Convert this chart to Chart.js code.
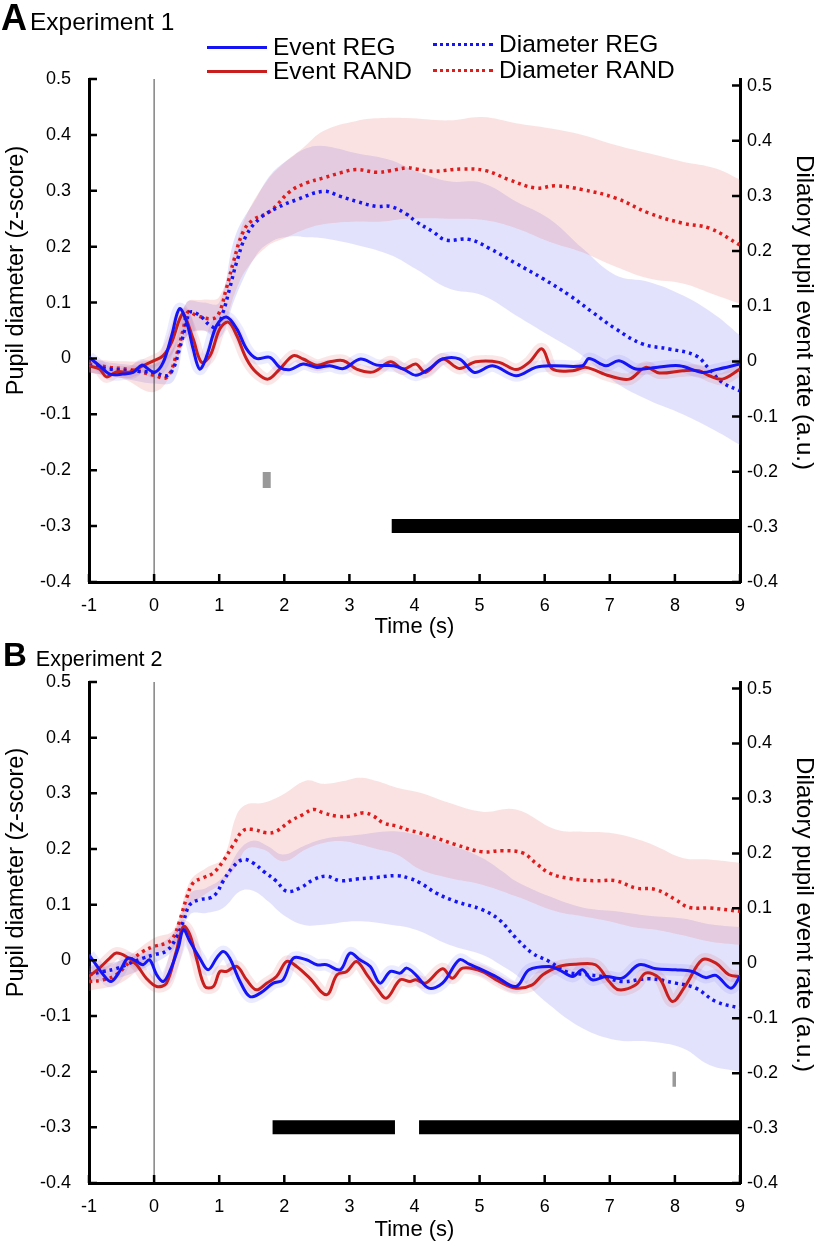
<!DOCTYPE html>
<html>
<head>
<meta charset="utf-8">
<script src="https://cdn.jsdelivr.net/npm/chart.js@4.4.1/dist/chart.umd.min.js"></script>
<style>
  body { margin: 0; background: #fff; font-family: "Liberation Sans", Arial, sans-serif; }
  #page { position: relative; width: 826px; height: 1249px; }
  .box { position: absolute; left: 0; width: 826px; }
  .lbl { position: absolute; color: #000; white-space: nowrap; line-height: 30px; }
  .lbl b { margin-right: 3px; }
  .key { position: absolute; font-size: 24.5px; line-height: 24px; white-space: nowrap; display: flex; align-items: center; }
  .key span { display: inline-block; width: 60px; margin-right: 6px; border-top: 3px solid; }
</style>
</head>
<body>
<div id="page">
  <div class="box" style="top:0;height:640px"><canvas id="chartA" width="826" height="640"></canvas></div>
  <div class="box" style="top:640px;height:609px"><canvas id="chartB" width="826" height="609"></canvas></div>

  <div class="lbl" style="left:1px;top:3px;font-size:24.5px"><b style="font-size:36px">A</b>Experiment 1</div>
  <div class="lbl" style="left:3px;top:640px;font-size:21.5px"><b style="font-size:33px">B</b> Experiment 2</div>

  <div class="key" style="left:207px;top:35px"><span style="border-color:#1414f5"></span>Event REG</div>
  <div class="key" style="left:207px;top:59px"><span style="border-color:#c81e1e"></span>Event RAND</div>
  <div class="key" style="left:433px;top:32px"><span style="border-top-style:dotted;border-color:#1414f5"></span>Diameter REG</div>
  <div class="key" style="left:433px;top:58px"><span style="border-top-style:dotted;border-color:#dd1c1c"></span>Diameter RAND</div>
</div>

<script>
// axes
var xTicks = [-1, 0, 1, 2, 3, 4, 5, 6, 7, 8, 9];
var yTicks = [-0.4, -0.3, -0.2, -0.1, 0, 0.1, 0.2, 0.3, 0.4, 0.5];
var leftTitle = 'Pupil diameter (z-score)';
var rightTitle = 'Dilatory pupil event rate (a.u.)';

// ---- Experiment 1 ----
var diaRandA_t = [-1, -0.68, -0.37, 0, 0.19, 0.34, 0.45, 0.52, 0.65, 0.86, 0.98, 1.11, 1.22, 1.37, 1.52, 1.78, 2.09, 2.34, 2.6, 2.86, 3.11, 3.42, 3.63, 3.88, 4.02, 4.28, 4.74, 5.09, 5.45, 5.86, 6.17, 6.58, 7.09, 7.6, 8.12, 8.53, 9];
var diaRandA_v = [-0.01, -0.016, -0.02, -0.03, -0.034, 0.005, 0.053, 0.083, 0.077, 0.071, 0.077, 0.125, 0.173, 0.227, 0.248, 0.263, 0.299, 0.314, 0.323, 0.332, 0.338, 0.333, 0.336, 0.341, 0.339, 0.335, 0.339, 0.336, 0.32, 0.305, 0.309, 0.302, 0.287, 0.26, 0.242, 0.233, 0.203];

var diaRegA_t = [-1, -0.68, -0.37, 0, 0.19, 0.29, 0.39, 0.5, 0.55, 0.7, 0.86, 0.96, 1.06, 1.16, 1.27, 1.42, 1.63, 1.88, 2.19, 2.6, 2.86, 3.11, 3.42, 3.63, 3.88, 4.02, 4.28, 4.48, 4.84, 5.15, 5.56, 5.97, 6.38, 6.73, 7.09, 7.5, 7.91, 8.32, 8.53, 8.73, 9];
var diaRegA_v = [-0.013, -0.019, -0.022, -0.025, -0.031, -0.019, 0.017, 0.065, 0.083, 0.077, 0.059, 0.056, 0.083, 0.125, 0.173, 0.221, 0.251, 0.269, 0.284, 0.299, 0.29, 0.281, 0.272, 0.272, 0.258, 0.245, 0.227, 0.212, 0.213, 0.197, 0.17, 0.143, 0.113, 0.083, 0.053, 0.026, 0.017, 0.005, -0.019, -0.043, -0.058];

var bandRandA_t  = [-1, -0.5, 0, 0.3, 0.5, 0.75, 1.0, 1.25, 1.42, 1.73, 2.0, 2.29, 2.6, 3.11, 3.5, 3.88, 4.53, 5.04, 5.56, 6.07, 6.58, 7.09, 7.6, 8.12, 8.63, 9];
var bandRandA_hi = [0.0, -0.005, 0.0, 0.03, 0.1, 0.105, 0.11, 0.2, 0.257, 0.317, 0.35, 0.377, 0.407, 0.425, 0.43, 0.43, 0.426, 0.432, 0.421, 0.412, 0.4, 0.382, 0.367, 0.352, 0.34, 0.32];
var bandRandA_lo = [-0.025, -0.035, -0.06, -0.02, 0.04, 0.05, 0.045, 0.12, 0.16, 0.2, 0.215, 0.23, 0.24, 0.245, 0.245, 0.25, 0.25, 0.248, 0.233, 0.209, 0.19, 0.164, 0.143, 0.134, 0.113, 0.098];

var bandRegA_t  = [-1, -0.5, 0, 0.3, 0.5, 0.75, 1.0, 1.25, 1.57, 1.8, 2.09, 2.34, 2.6, 3.11, 3.63, 4.02, 4.53, 5.04, 5.56, 6.07, 6.58, 7.09, 7.6, 8.12, 8.63, 9];
var bandRegA_hi = [0.0, -0.01, -0.01, 0.02, 0.1, 0.1, 0.1, 0.22, 0.287, 0.33, 0.358, 0.376, 0.38, 0.367, 0.355, 0.335, 0.317, 0.314, 0.281, 0.25, 0.197, 0.149, 0.137, 0.113, 0.077, 0.041];
var bandRegA_lo = [-0.025, -0.035, -0.045, -0.04, 0.04, 0.05, 0.035, 0.11, 0.185, 0.209, 0.218, 0.217, 0.215, 0.203, 0.185, 0.16, 0.125, 0.113, 0.077, 0.041, 0.005, -0.043, -0.075, -0.1, -0.13, -0.155];

var evRandA_t = [-1, -0.84, -0.73, -0.58, -0.37, -0.17, 0, 0.14, 0.27, 0.39, 0.45, 0.6, 0.73, 0.86, 1.01, 1.14, 1.27, 1.42, 1.57, 1.75, 1.93, 2.14, 2.29, 2.5, 2.7, 2.91, 3.11, 3.37, 3.63, 3.83, 4.02, 4.17, 4.43, 4.69, 4.94, 5.3, 5.56, 5.76, 5.96, 6.12, 6.43, 6.63, 6.99, 7.3, 7.55, 7.76, 8.12, 8.37, 8.53, 8.73, 9];
var evRandA_v = [-0.013, -0.019, -0.033, -0.024, -0.024, -0.013, -0.004, 0.005, 0.029, 0.07, 0.08, 0.035, -0.007, 0.005, 0.053, 0.065, 0.041, -0.001, -0.025, -0.037, -0.019, 0.005, -0.001, -0.012, -0.006, -0.004, -0.019, -0.024, -0.006, -0.019, -0.01, -0.025, -0.001, -0.018, -0.006, -0.007, -0.02, -0.007, 0.017, -0.019, -0.022, -0.016, -0.031, -0.037, -0.016, -0.026, -0.022, -0.022, -0.031, -0.037, -0.019];

var evRegA_t = [-1, -0.84, -0.68, -0.48, -0.32, -0.19, -0.09, 0.01, 0.14, 0.27, 0.39, 0.5, 0.6, 0.7, 0.81, 0.96, 1.11, 1.27, 1.42, 1.57, 1.78, 1.93, 2.09, 2.29, 2.5, 2.7, 2.91, 3.17, 3.42, 3.68, 3.83, 4.02, 4.22, 4.43, 4.69, 4.92, 5.2, 5.56, 5.86, 6.12, 6.58, 6.68, 6.94, 7.14, 7.4, 7.71, 8.07, 8.42, 8.63, 9];
var evRegA_v = [0.002, -0.013, -0.028, -0.028, -0.025, -0.012, -0.019, -0.025, -0.007, 0.041, 0.089, 0.065, 0.017, -0.019, 0.005, 0.059, 0.074, 0.053, 0.017, 0, 0.002, -0.016, -0.02, -0.01, -0.016, -0.013, -0.018, -0.001, -0.012, -0.013, -0.019, -0.03, -0.019, -0.001, -0.001, -0.025, -0.013, -0.031, -0.016, -0.013, -0.013, 0, -0.013, -0.004, -0.019, -0.016, -0.013, -0.025, -0.02, -0.01];

var sigBarsA = [[3.65, 9]];
var greyMarkA = { x: 1.73, y: [-0.203, -0.232] };

// ---- Experiment 2 ----
var diaRandB_t = [-1, -0.78, -0.58, -0.37, -0.17, 0, 0.19, 0.29, 0.39, 0.5, 0.6, 0.75, 0.91, 1.06, 1.22, 1.37, 1.52, 1.73, 1.88, 2.09, 2.29, 2.45, 2.6, 2.81, 3.01, 3.22, 3.37, 3.52, 3.73, 3.93, 4.02, 4.33, 4.63, 5.04, 5.35, 5.66, 5.86, 6.07, 6.38, 6.78, 7.09, 7.4, 7.71, 8.01, 8.22, 8.53, 9];
var diaRandB_v = [-0.038, -0.035, -0.026, -0.002, 0.016, 0.025, 0.031, 0.04, 0.07, 0.112, 0.139, 0.148, 0.157, 0.178, 0.208, 0.233, 0.235, 0.229, 0.232, 0.25, 0.262, 0.271, 0.265, 0.259, 0.259, 0.265, 0.259, 0.247, 0.241, 0.233, 0.231, 0.22, 0.208, 0.195, 0.197, 0.193, 0.175, 0.157, 0.147, 0.143, 0.143, 0.13, 0.127, 0.109, 0.095, 0.094, 0.088];

var diaRegB_t = [-1, -0.78, -0.58, -0.37, -0.17, 0, 0.19, 0.34, 0.45, 0.55, 0.7, 0.86, 0.96, 1.06, 1.22, 1.37, 1.52, 1.68, 1.88, 2.04, 2.24, 2.45, 2.65, 2.86, 3.11, 3.42, 3.73, 3.93, 4.09, 4.33, 4.63, 5.04, 5.3, 5.56, 5.81, 6.07, 6.32, 6.58, 6.89, 7.19, 7.6, 8.01, 8.32, 8.63, 9];
var diaRegB_v = [-0.026, -0.02, -0.015, -0.005, 0.004, 0.01, 0.017, 0.04, 0.07, 0.1, 0.109, 0.112, 0.121, 0.142, 0.169, 0.181, 0.175, 0.16, 0.142, 0.124, 0.13, 0.145, 0.151, 0.143, 0.146, 0.149, 0.152, 0.147, 0.139, 0.121, 0.106, 0.091, 0.073, 0.04, 0.013, -0.002, -0.02, -0.025, -0.029, -0.038, -0.033, -0.041, -0.05, -0.074, -0.086];

var bandRandB_t  = [-1, -0.5, 0, 0.3, 0.55, 0.8, 1.06, 1.27, 1.42, 1.68, 1.98, 2.34, 2.6, 2.91, 3.16, 3.42, 3.73, 4.09, 4.53, 5.04, 5.56, 6.17, 6.58, 6.99, 7.35, 7.71, 8.12, 8.53, 9];
var bandRandB_hi = [-0.02, 0.0, 0.04, 0.055, 0.142, 0.166, 0.184, 0.262, 0.28, 0.283, 0.298, 0.323, 0.317, 0.322, 0.328, 0.322, 0.31, 0.301, 0.283, 0.267, 0.271, 0.235, 0.231, 0.229, 0.22, 0.205, 0.184, 0.181, 0.175];
var bandRandB_lo = [-0.055, -0.04, 0.01, 0.025, 0.095, 0.12, 0.14, 0.17, 0.2, 0.199, 0.178, 0.2, 0.211, 0.214, 0.208, 0.2, 0.19, 0.163, 0.148, 0.136, 0.115, 0.088, 0.079, 0.07, 0.06, 0.055, 0.045, 0.034, 0.028];

var bandRegB_t  = [-1, -0.5, 0, 0.3, 0.55, 0.8, 1.06, 1.32, 1.52, 1.75, 1.98, 2.29, 2.6, 3.11, 3.63, 4.02, 4.53, 5.04, 5.35, 5.56, 6.07, 6.58, 7.09, 7.6, 8.12, 8.53, 9];
var bandRegB_hi = [-0.01, 0.0, 0.025, 0.05, 0.12, 0.13, 0.15, 0.2, 0.215, 0.205, 0.19, 0.205, 0.218, 0.225, 0.232, 0.226, 0.208, 0.184, 0.16, 0.142, 0.115, 0.095, 0.088, 0.08, 0.075, 0.065, 0.06];
var bandRegB_lo = [-0.04, -0.03, -0.005, 0.02, 0.082, 0.085, 0.094, 0.124, 0.125, 0.106, 0.082, 0.064, 0.064, 0.07, 0.064, 0.055, 0.028, 0.01, -0.01, -0.026, -0.08, -0.122, -0.143, -0.146, -0.158, -0.188, -0.2];

var evRandB_t = [-1, -0.84, -0.68, -0.58, -0.43, -0.27, -0.12, 0.04, 0.19, 0.34, 0.45, 0.55, 0.65, 0.78, 0.91, 1.01, 1.11, 1.27, 1.42, 1.57, 1.73, 1.88, 2.04, 2.19, 2.39, 2.65, 2.81, 2.96, 3.11, 3.27, 3.42, 3.57, 3.78, 3.93, 4.02, 4.17, 4.43, 4.58, 4.74, 5.04, 5.3, 5.56, 5.81, 5.97, 6.22, 6.48, 6.78, 6.99, 7.14, 7.4, 7.55, 7.76, 7.96, 8.17, 8.42, 8.63, 8.83, 9];
var evRandB_v = [-0.029, -0.014, 0.004, 0.013, 0.007, -0.008, -0.032, -0.047, -0.041, 0.016, 0.061, 0.046, 0.004, -0.047, -0.047, -0.02, -0.02, -0.011, -0.035, -0.053, -0.041, -0.029, -0.002, -0.011, -0.032, -0.062, -0.026, -0.02, -0.002, -0.026, -0.05, -0.068, -0.035, -0.038, -0.035, -0.041, -0.015, -0.032, -0.014, -0.02, -0.038, -0.05, -0.044, -0.026, -0.011, -0.007, -0.008, -0.038, -0.053, -0.044, -0.023, -0.032, -0.074, -0.044, 0.001, -0.005, -0.026, -0.029];

var evRegB_t = [-1, -0.89, -0.78, -0.66, -0.53, -0.4, -0.27, -0.17, -0.07, 0.04, 0.14, 0.24, 0.37, 0.45, 0.55, 0.7, 0.83, 0.96, 1.06, 1.16, 1.32, 1.47, 1.63, 1.83, 1.98, 2.14, 2.34, 2.5, 2.65, 2.86, 3.01, 3.16, 3.32, 3.47, 3.63, 3.78, 3.88, 4.02, 4.22, 4.43, 4.69, 4.84, 5.04, 5.25, 5.56, 5.76, 6.07, 6.22, 6.43, 6.58, 6.73, 6.94, 7.19, 7.45, 7.71, 8.01, 8.27, 8.47, 8.63, 8.86, 9];
var evRegB_v = [0.01, -0.008, -0.026, -0.038, -0.02, 0.004, -0.002, -0.008, 0.001, -0.026, -0.038, -0.02, 0.022, 0.055, 0.034, 0.004, -0.017, 0.004, 0.016, 0.004, -0.038, -0.065, -0.059, -0.041, -0.035, 0.004, 0.001, -0.008, -0.008, -0.017, 0.013, 0.001, -0.011, -0.041, -0.02, -0.023, -0.014, -0.026, -0.05, -0.041, 0.001, -0.007, -0.017, -0.029, -0.047, -0.017, -0.011, -0.017, -0.029, -0.017, -0.035, -0.029, -0.032, -0.008, -0.015, -0.017, -0.02, -0.031, -0.027, -0.05, -0.029];

var sigBarsB = [[1.82, 3.70], [4.07, 9]];
var greyMarkB = { x: 7.99, y: [-0.2, -0.227] };

var sigLevel = -0.3;

var BLUE = '#1414f5', RED = '#c81e1e', RED_DOT = '#dd1c1c';
var FONT = '"Liberation Sans", Arial, sans-serif';

Chart.defaults.font.family = FONT;
Chart.defaults.color = '#000';

function pts(xs, ys) {
  return xs.map(function (x, i) { return { x: x, y: ys[i] }; });
}

function line(data, color, width, order, extra) {
  var ds = {
    data: data, borderColor: color, borderWidth: width, pointRadius: 0,
    fill: false, tension: 0.35, order: order
  };
  for (var k in extra) ds[k] = extra[k];
  return ds;
}

function panelSets(p) {
  var sets = [
    // shaded spread of the diameter traces
    line(pts(p.bandRandT, p.bandRandHi), 'transparent', 0, 10, { fill: '+1', backgroundColor: 'rgba(235,110,110,0.2)', tension: 0.4 }),
    line(pts(p.bandRandT, p.bandRandLo), 'transparent', 0, 10, { tension: 0.4 }),
    line(pts(p.bandRegT, p.bandRegHi), 'transparent', 0, 10, { fill: '+1', backgroundColor: 'rgba(110,110,240,0.2)', tension: 0.4 }),
    line(pts(p.bandRegT, p.bandRegLo), 'transparent', 0, 10, { tension: 0.4 }),
    // zero line
    line([{ x: 0, y: yTicks[0] }, { x: 0, y: yTicks[yTicks.length - 1] }], '#444', 1, 9, { tension: 0 }),
    // spread around event traces
    line(pts(p.evRandT, p.evRandV), 'rgba(220,80,80,0.14)', 12, 8),
    line(pts(p.evRegT, p.evRegV), 'rgba(90,90,255,0.12)', 12, 8),
    // diameter traces
    line(pts(p.diaRandT, p.diaRandV), RED_DOT, 3.5, 5, { borderDash: [3, 4], tension: 0.4 }),
    line(pts(p.diaRegT, p.diaRegV), BLUE, 3.5, 4, { borderDash: [3, 4], tension: 0.4 }),
    // event traces
    line(pts(p.evRandT, p.evRandV), RED, 3, 3),
    line(pts(p.evRegT, p.evRegV), BLUE, 3, 2),
    // grey marker
    line([{ x: p.mark.x, y: p.mark.y[0] }, { x: p.mark.x, y: p.mark.y[1] }], '#999', p.markW, 1, { tension: 0, borderCapStyle: 'butt' })
  ];
  p.sig.forEach(function (b) {
    sets.push(line([{ x: b[0], y: sigLevel }, { x: b[1], y: sigLevel }], '#000', 14, 1, { tension: 0, borderCapStyle: 'butt' }));
  });
  return sets;
}

// inward tick marks and the two y-axis titles, placed as in the original figure
var axisDecor = {
  id: 'axisDecor',
  afterDraw: function (chart) {
    var ctx = chart.ctx, a = chart.chartArea, s = chart.scales;
    var mid = (a.top + a.bottom) / 2;
    ctx.save();
    ctx.strokeStyle = '#000';
    ctx.lineWidth = 2.5;
    ctx.beginPath();
    xTicks.forEach(function (v) {
      var px = s.x.getPixelForValue(v);
      ctx.moveTo(px, a.bottom); ctx.lineTo(px, a.bottom - 8);
    });
    yTicks.forEach(function (v) {
      var py = s.y.getPixelForValue(v);
      ctx.moveTo(a.left, py); ctx.lineTo(a.left + 8, py);
      var pr = s.y2.getPixelForValue(v);
      ctx.moveTo(a.right, pr); ctx.lineTo(a.right - 8, pr);
    });
    ctx.stroke();

    ctx.fillStyle = '#000';
    ctx.font = '23.5px ' + FONT;
    ctx.textAlign = 'center';
    ctx.textBaseline = 'middle';
    ctx.save();
    ctx.translate(17, mid - 60);
    ctx.rotate(-Math.PI / 2);
    ctx.fillText(leftTitle, 0, 0);
    ctx.restore();
    ctx.font = '24px ' + FONT;
    ctx.translate(804, mid - 18);
    ctx.rotate(Math.PI / 2);
    ctx.fillText(rightTitle, 0, 0);
    ctx.restore();
  }
};

function options(lay) {
  var tickFont = { size: 18 };
  var fmt = function (v) { return String(Math.round(v * 10) / 10); };
  return {
    responsive: false,
    animation: false,
    layout: { padding: { top: lay.top, left: 0, right: 0, bottom: 0 } },
    plugins: { legend: { display: false }, tooltip: { enabled: false } },
    scales: {
      x: {
        type: 'linear', min: xTicks[0], max: xTicks[xTicks.length - 1],
        afterBuildTicks: function (sc) { sc.ticks = xTicks.map(function (v) { return { value: v }; }); },
        afterFit: function (sc) { sc.height = lay.xh; },
        grid: { drawOnChartArea: false, drawTicks: false },
        border: { width: 3, color: '#000' },
        ticks: { padding: 13, font: tickFont, maxRotation: 0, autoSkip: false, callback: fmt },
        title: { display: true, text: 'Time (s)', font: { size: 22 }, padding: { top: 0, bottom: lay.tb } }
      },
      y: {
        position: 'left', min: yTicks[0], max: yTicks[yTicks.length - 1],
        afterBuildTicks: function (sc) { sc.ticks = yTicks.map(function (v) { return { value: v }; }); },
        afterFit: function (sc) { sc.width = 89; },
        grid: { drawOnChartArea: false, drawTicks: false },
        border: { width: 3, color: '#000' },
        ticks: { padding: 18, font: tickFont, callback: fmt }
      },
      y2: {
        position: 'right', min: yTicks[0], max: 0.512,
        afterBuildTicks: function (sc) { sc.ticks = yTicks.map(function (v) { return { value: v }; }); },
        afterFit: function (sc) { sc.width = 86; },
        grid: { drawOnChartArea: false, drawTicks: false },
        border: { width: 3, color: '#000' },
        ticks: { padding: 7, font: tickFont, callback: fmt }
      }
    }
  };
}

new Chart(document.getElementById('chartA'), {
  type: 'line',
  data: {
    datasets: panelSets({
      bandRandT: bandRandA_t, bandRandHi: bandRandA_hi, bandRandLo: bandRandA_lo,
      bandRegT: bandRegA_t, bandRegHi: bandRegA_hi, bandRegLo: bandRegA_lo,
      diaRandT: diaRandA_t, diaRandV: diaRandA_v, diaRegT: diaRegA_t, diaRegV: diaRegA_v,
      evRandT: evRandA_t, evRandV: evRandA_v, evRegT: evRegA_t, evRegV: evRegA_v,
      sig: sigBarsA, mark: greyMarkA, markW: 8
    })
  },
  options: options({ top: 79, xh: 58, tb: 0 }),
  plugins: [axisDecor]
});

new Chart(document.getElementById('chartB'), {
  type: 'line',
  data: {
    datasets: panelSets({
      bandRandT: bandRandB_t, bandRandHi: bandRandB_hi, bandRandLo: bandRandB_lo,
      bandRegT: bandRegB_t, bandRegHi: bandRegB_hi, bandRegLo: bandRegB_lo,
      diaRandT: diaRandB_t, diaRandV: diaRandB_v, diaRegT: diaRegB_t, diaRegV: diaRegB_v,
      evRandT: evRandB_t, evRandV: evRandB_v, evRegT: evRegB_t, evRegV: evRegB_v,
      sig: sigBarsB, mark: greyMarkB, markW: 3.5
    })
  },
  options: options({ top: 42, xh: 66, tb: 6 }),
  plugins: [axisDecor]
});
</script>
</body>
</html>
